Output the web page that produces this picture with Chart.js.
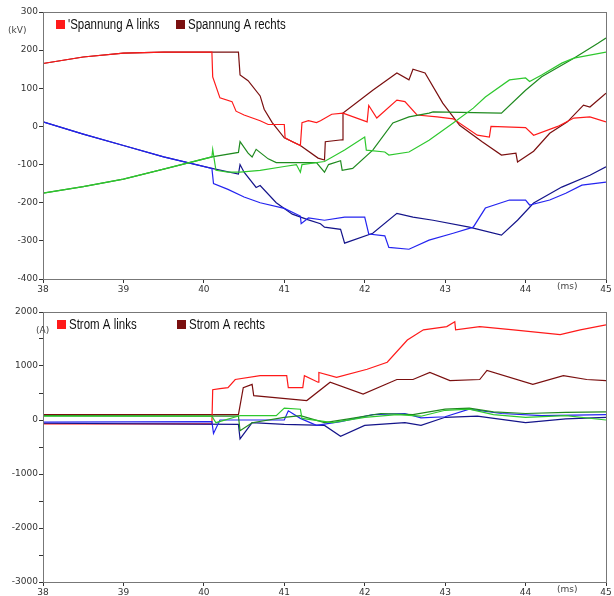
<!DOCTYPE html>
<html lang="de">
<head>
<meta charset="UTF-8">
<title>Spannung / Strom</title>
<script src="https://cdn.jsdelivr.net/npm/chart.js"></script>
<style>
  body { margin: 0; background: #fff; }
  .box { position: absolute; left: 0; width: 614px; }
</style>
</head>
<body>
<div class="box" style="top:0;height:300px"><canvas id="spannung"></canvas></div>
<div class="box" style="top:300px;height:296px"><canvas id="strom"></canvas></div>
<script>
// Spannung (kV)
const uLinksX = [38, 38.5, 39, 39.5, 40.1, 40.11, 40.2, 40.35, 40.4, 40.5, 40.7, 40.8, 41.0, 41.01, 41.1, 41.2, 41.22, 41.3, 41.4, 41.45, 41.59, 41.73, 42.03, 42.05, 42.15, 42.4, 42.5, 42.65, 42.9, 43.1, 43.4, 43.55, 43.57, 44.0, 44.1, 44.4, 44.6, 44.8, 45];
const uLinksY = [165, 182, 192, 195, 195, 130, 75, 65, 40, 30, 15, 5, 5, -30, -40, -50, 10, 15, 10, 15, 32, 35, 12, 55, 22, 69, 65, 30, 25, 20, -23, -28, 0, -3, -23, 0, 22, 25, 12];
const uRechtsX = [38, 38.5, 39, 39.5, 40.43, 40.45, 40.55, 40.7, 40.75, 40.85, 41.0, 41.2, 41.42, 41.5, 41.51, 41.72, 41.73, 42.1, 42.4, 42.55, 42.6, 42.75, 42.97, 43.18, 43.46, 43.7, 43.88, 43.9, 44.1, 44.3, 44.52, 44.72, 44.8, 45];
const uRechtsY = [165, 182, 192, 195, 195, 135, 120, 80, 45, 10, -30, -50, -83, -88, -40, -35, 35, 95, 140, 122, 150, 140, 61, 3, -40, -75, -70, -93, -65, -18, 12, 56, 51, 87];
const uGruenX = [38, 38.5, 39, 39.5, 40.1, 40.11, 40.15, 40.3, 40.45, 40.7, 41.0, 41.15, 41.2, 41.22, 41.5, 41.75, 42.0, 42.02, 42.25, 42.3, 42.55, 42.8, 43.1, 43.35, 43.5, 43.8, 44.0, 44.05, 44.2, 44.45, 44.6, 45];
const uGruenY = [-175, -158, -138, -112, -80, -60, -115, -120, -120, -115, -105, -100, -120, -100, -92, -62, -28, -62, -67, -75, -67, -36, 9, 48, 77, 122, 127, 118, 135, 166, 179, 195];
const uDGruenX = [38, 38.5, 39, 39.5, 40.1, 40.43, 40.45, 40.55, 40.6, 40.65, 40.8, 40.9, 41.4, 41.5, 41.55, 41.7, 41.72, 41.85, 42.1, 42.35, 42.55, 42.8, 42.85, 43.7, 44.0, 44.2, 44.6, 44.9, 45];
const uDGruenY = [-175, -158, -138, -112, -80, -68, -40, -70, -80, -60, -85, -95, -95, -120, -100, -90, -115, -110, -62, 9, 25, 35, 38, 35, 95, 130, 179, 218, 232];
const uBlauX = [38, 38.5, 39, 39.5, 40.1, 40.12, 40.3, 40.5, 40.7, 41.0, 41.2, 41.21, 41.3, 41.5, 41.75, 42.0, 42.05, 42.25, 42.3, 42.55, 42.8, 43.1, 43.35, 43.5, 43.8, 44.0, 44.05, 44.3, 44.5, 44.7, 45];
const uBlauY = [12, -20, -50, -80, -110, -150, -165, -185, -200, -215, -235, -255, -240, -246, -238, -238, -282, -287, -317, -322, -298, -280, -264, -214, -193, -193, -206, -193, -175, -154, -146];
const uDBlauX = [38, 38.5, 39, 39.5, 40.1, 40.43, 40.45, 40.5, 40.65, 40.7, 40.9, 41.1, 41.3, 41.45, 41.5, 41.7, 41.75, 42.1, 42.4, 42.6, 42.85, 43.3, 43.7, 43.9, 44.1, 44.45, 44.8, 45];
const uDBlauY = [12, -20, -50, -80, -110, -125, -100, -120, -160, -155, -200, -230, -245, -255, -264, -270, -306, -280, -228, -238, -246, -264, -285, -246, -201, -159, -128, -106];

// Strom (A)
const iLinksX = [38, 40.1, 40.11, 40.2, 40.3, 40.39, 40.7, 41.03, 41.05, 41.23, 41.25, 41.42, 41.43, 41.65, 42.03, 42.28, 42.53, 42.73, 43.02, 43.12, 43.13, 43.43, 43.85, 44.43, 44.68, 45];
const iLinksY = [-70, -70, 560, 580, 600, 750, 820, 820, 600, 600, 820, 700, 880, 790, 940, 1070, 1480, 1670, 1730, 1820, 1670, 1730, 1670, 1580, 1670, 1760];
const iRechtsX = [38, 40.43, 40.49, 40.6, 40.62, 41.28, 41.57, 41.98, 42.4, 42.6, 42.81, 43.06, 43.43, 43.52, 44.09, 44.47, 44.76, 45];
const iRechtsY = [100, 100, 600, 660, 450, 360, 700, 480, 750, 750, 880, 730, 750, 920, 660, 820, 750, 730];
const iGruenX = [38, 40.1, 40.15, 40.4, 40.45, 40.9, 41.0, 41.2, 41.22, 41.6, 42.0, 42.4, 42.7, 43.0, 43.3, 43.6, 44.0, 44.5, 45];
const iGruenY = [70, 70, -50, 60, 80, 80, 220, 200, 30, -50, 50, 100, 70, 180, 200, 100, 50, 80, 0];
const iDGruenX = [38, 40.43, 40.45, 40.6, 41.0, 41.2, 41.5, 41.8, 42.2, 42.6, 43.0, 43.3, 43.6, 44.0, 44.5, 45];
const iDGruenY = [80, 70, -200, -50, 50, 80, -50, 20, 120, 100, 200, 220, 150, 120, 140, 150];
const iBlauX = [38, 40.1, 40.12, 40.2, 41.0, 41.05, 41.2, 41.4, 41.7, 42.1, 42.5, 42.7, 43.0, 43.3, 43.7, 44.2, 45];
const iBlauY = [-40, -30, -250, 0, 0, 170, 30, -100, -30, 100, 120, 40, 60, 200, 120, 80, 100];
const iDBlauX = [38, 40.43, 40.45, 40.6, 41.0, 41.5, 41.7, 42.0, 42.5, 42.7, 43.0, 43.4, 44.0, 44.5, 45];
const iDBlauY = [-60, -80, -350, -50, -80, -100, -300, -100, -50, -100, 50, 70, -50, 20, 50];

const pts = (xs, ys) => xs.map((x, i) => ({ x: x, y: ys[i] }));
const line = (label, xs, ys, color) => ({
  label: label, data: pts(xs, ys), borderColor: color, backgroundColor: color,
  borderWidth: 1.2, pointRadius: 0, tension: 0, fill: false
});

// Rahmen, Legende und Einheiten direkt auf den Canvas
function deko(legend, yUnit, yUnitPos) {
  return {
    id: 'deko',
    afterDraw(chart) {
      const c = chart.ctx, a = chart.chartArea;
      c.save();
      c.strokeStyle = '#777';
      c.lineWidth = 1;
      c.strokeRect(a.left + 0.5, a.top + 0.5, a.right - a.left, a.bottom - a.top);
      c.textBaseline = 'middle';
      legend.forEach(l => {
        c.fillStyle = l.color;
        c.fillRect(l.x, a.top + 8, 9, 9);
        c.fillStyle = '#111';
        // schmale Schrift nachbilden
        c.save();
        c.translate(l.x + 12, a.top + 13);
        c.scale(0.82, 1);
        c.font = '14px "Liberation Sans", sans-serif';
        c.fillText(l.text, 0, 0);
        c.restore();
      });
      c.font = '9px "DejaVu Sans", sans-serif';
      c.fillStyle = '#444';
      c.fillText(yUnit, yUnitPos, a.top + 19);
      c.fillText('(ms)', 557, a.bottom + 8);
      c.restore();
    }
  };
}

function makeChart(id, datasets, yMin, yMax, yStep, yLabelStep, xHeight, legend, yUnit, yUnitPos) {
  const tickFont = { family: '"DejaVu Sans", sans-serif', size: 9 };
  return new Chart(document.getElementById(id), {
    type: 'line',
    data: { datasets: datasets },
    options: {
      responsive: true,
      maintainAspectRatio: false,
      animation: false,
      layout: { padding: { top: 12, right: 8, left: 0, bottom: 0 } },
      plugins: { legend: { display: false }, tooltip: { enabled: false } },
      scales: {
        x: {
          type: 'linear', min: 38, max: 45,
          ticks: { stepSize: 1, font: tickFont, color: '#333', padding: 1, maxRotation: 0 },
          grid: { drawOnChartArea: false, tickLength: 4, color: '#333' },
          border: { color: '#333' },
          afterFit: s => { s.height = xHeight; }
        },
        y: {
          min: yMin, max: yMax,
          ticks: {
            stepSize: yStep, font: tickFont, color: '#333', padding: 1,
            callback: v => (v % yLabelStep === 0 ? v : '')
          },
          grid: { drawOnChartArea: false, tickLength: 4, color: '#333' },
          border: { color: '#333' },
          afterFit: s => { s.width = 43; }
        }
      }
    },
    plugins: [deko(legend, yUnit, yUnitPos)]
  });
}

makeChart('spannung', [
  line('Grün', uGruenX, uGruenY, '#2ec82e'),
  line('Dunkelgrün', uDGruenX, uDGruenY, '#1f8a1f'),
  line('Blau', uBlauX, uBlauY, '#2424f0'),
  line('Dunkelblau', uDBlauX, uDBlauY, '#14148a'),
  line("'Spannung A links", uLinksX, uLinksY, '#ff1a1a'),
  line('Spannung A rechts', uRechtsX, uRechtsY, '#7a0f0f')
], -400, 300, 100, 100, 21, [
  { text: "'Spannung A links", color: '#ff1a1a', x: 56 },
  { text: 'Spannung A rechts', color: '#7a0f0f', x: 176 }
], '(kV)', 8);

makeChart('strom', [
  line('Grün', iGruenX, iGruenY, '#2ec82e'),
  line('Dunkelgrün', iDGruenX, iDGruenY, '#1f8a1f'),
  line('Blau', iBlauX, iBlauY, '#2424f0'),
  line('Dunkelblau', iDBlauX, iDBlauY, '#14148a'),
  line('Strom A links', iLinksX, iLinksY, '#ff1a1a'),
  line('Strom A rechts', iRechtsX, iRechtsY, '#7a0f0f')
], -3000, 2000, 500, 1000, 14, [
  { text: 'Strom A links', color: '#ff1a1a', x: 57 },
  { text: 'Strom A rechts', color: '#7a0f0f', x: 177 }
], '(A)', 36);
</script>
</body>
</html>
